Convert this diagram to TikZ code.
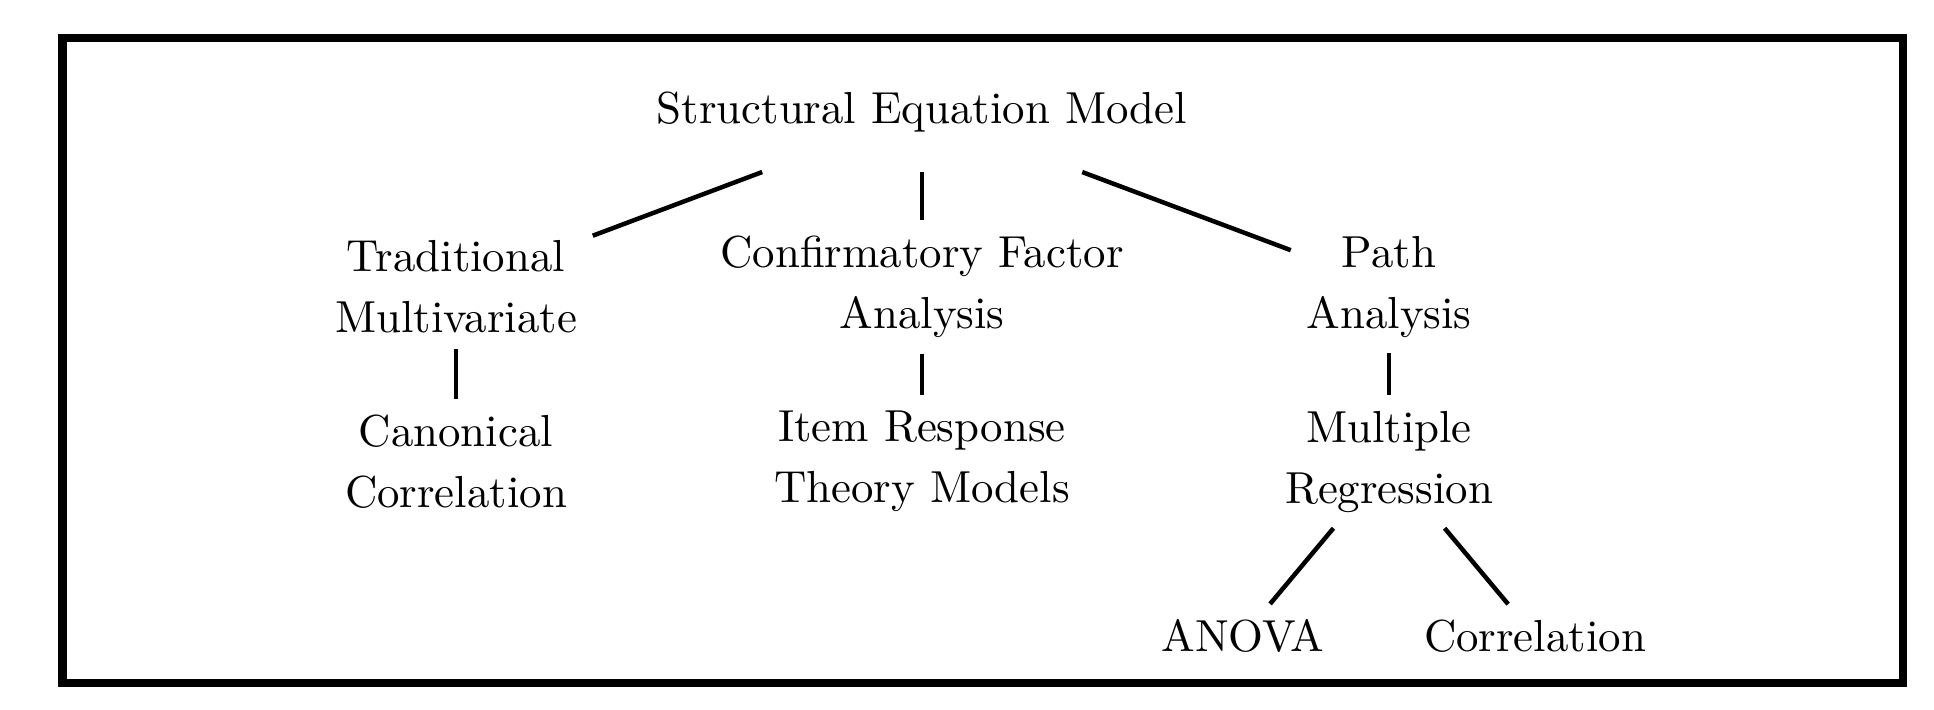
\documentclass[tikz,border=0pt]{standalone}
\begin{document}
\begin{tikzpicture}[x=0.223pt,y=-0.223pt,
  every node/.style={font=\fontsize{10}{13.6}\selectfont, align=center, inner sep=3.33pt},
  conn/.style={line width=1pt},
  frame/.style={line width=1.8pt}]
\useasboundingbox (0,0) rectangle (1934,710);
\draw[frame] (62.5,38) rectangle (1902.5,683);
\node[inner ysep=8.7pt] (sem) at (922,112) {Structural Equation Model};
\node (tm) at (456,287) {Traditional\\Multivariate};
\node (cfa) at (922,287) {Confirmatory Factor\\Analysis};
\node (pa) at (1389,287) {Path\\Analysis};
\node (cc) at (456,461.7) {Canonical\\Correlation};
\node (irt) at (922,461.7) {Item Response\\Theory Models};
\node (mr) at (1389,461.7) {Multiple\\Regression};
\node (anova) at (1243,636.3) {ANOVA};
\node (corr) at (1535,636.3) {Correlation};
\draw[conn] (sem) -- (tm);
\draw[conn] (sem) -- (cfa);
\draw[conn] (sem) -- (pa);
\draw[conn] (tm) -- (cc);
\draw[conn] (cfa) -- (irt);
\draw[conn] (pa) -- (mr);
\draw[conn] (mr) -- (anova);
\draw[conn] (mr) -- (corr);
\end{tikzpicture}
\end{document}
